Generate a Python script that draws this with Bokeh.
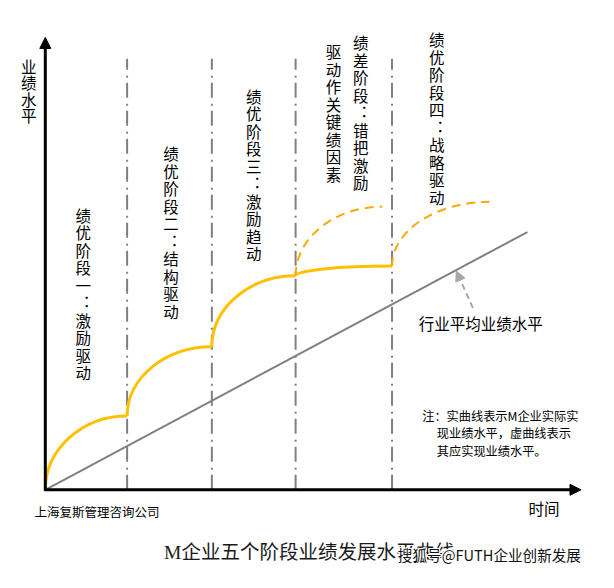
from bokeh.plotting import figure
from bokeh.models import Range1d, Arrow, NormalHead, ColumnDataSource
from bokeh.core.properties import value
from bokeh.embed import file_html
from bokeh.resources import INLINE

# ---------------- data (time / performance level, arbitrary units) ----------------
stage_bounds = [0, 84, 171, 257, 356]          # stage boundaries on the time axis
actual_level = [0, 76, 147, 220, 230]          # actual performance at each boundary
expected_start_t = [257, 356]
expected_start_v = [220, 230]
expected_end_t = [346, 456]
expected_end_v = [291, 296]
industry_t = [0, 495]
industry_v = [0, 265]
time_max = 550
level_max = 465
divider_top = 443

stage_labels = ["绩优阶段一︓激励驱动", "绩优阶段二︓结构驱动", "绩优阶段三︓激励趋动",
                "绩差阶段︓错把激励", "驱动作关键绩因素", "绩优阶段四︓战略驱动"]
stage_label_x = [39, 129, 214, 324, 296, 402]
stage_label_y = [283, 346, 405, 460, 451, 463]   # first character
char_step = 18

CJK = "Noto Sans CJK SC"

p = figure(width=598, height=572, output_backend="svg", toolbar_location=None,
           x_range=Range1d(-46, 568), y_range=Range1d(-85, 503),
           x_axis_location=None, y_axis_location=None, min_border=0)
p.outline_line_color = None
p.grid.visible = False
p.background_fill_color = "white"
p.border_fill_color = "white"

# stage dividers (dash-dot)
p.segment(x0=stage_bounds[1:], y0=[0] * 4, x1=stage_bounds[1:], y1=[divider_top] * 4,
          line_color="#808080", line_width=2, line_dash="15 5 2 6")

# industry average line
p.line(industry_t, industry_v, line_color="#808080", line_width=2)

# actual curve (solid): quarter-arc beziers between stage boundaries
k = 0.55
x0 = stage_bounds[:-1]; x1 = stage_bounds[1:]
y0 = actual_level[:-1]; y1 = actual_level[1:]
src = ColumnDataSource(dict(
    x0=x0, y0=y0, x1=x1, y1=y1,
    cx0=x0, cy0=[a + k * (b - a) for a, b in zip(y0, y1)],
    cx1=[b - k * (b - a) for a, b in zip(x0, x1)], cy1=y1))
p.bezier(x0="x0", y0="y0", x1="x1", y1="y1", cx0="cx0", cy0="cy0", cx1="cx1", cy1="cy1",
         source=src, line_color="#FFC000", line_width=3)

# expected curve (dashed)
srcd = ColumnDataSource(dict(
    x0=expected_start_t, y0=expected_start_v, x1=expected_end_t, y1=expected_end_v,
    cx0=expected_start_t,
    cy0=[a + k * (b - a) for a, b in zip(expected_start_v, expected_end_v)],
    cx1=[b - k * (b - a) for a, b in zip(expected_start_t, expected_end_t)],
    cy1=expected_end_v))
p.bezier(x0="x0", y0="y0", x1="x1", y1="y1", cx0="cx0", cy0="cy0", cx1="cx1", cy1="cy1",
         source=srcd, line_color="#FFA800", line_width=2, line_dash="9 6")

# axes with arrow heads
p.add_layout(Arrow(end=NormalHead(size=11, fill_color="black", line_color="black"),
                   x_start=0, y_start=-1, x_end=0, y_end=level_max,
                   line_color="black", line_width=3))
p.add_layout(Arrow(end=NormalHead(size=11, fill_color="black", line_color="black"),
                   x_start=-1, y_start=0, x_end=time_max, y_end=0,
                   line_color="black", line_width=3))

# pointer to the industry-average line
p.add_layout(Arrow(end=NormalHead(size=10, fill_color="#A6A6A6", line_color="#A6A6A6"),
                   x_start=439, y_start=187, x_end=422, y_end=225,
                   line_color="#A6A6A6", line_width=2, line_dash="6 4"))

# vertical stage labels, one character at a time
cx, cy, ct = [], [], []
for lab, lx, ly in zip(stage_labels, stage_label_x, stage_label_y):
    for i, ch in enumerate(lab):
        cx.append(lx); cy.append(ly - i * char_step); ct.append(ch)
p.text(x=cx, y=cy, text=ct, text_font=value(CJK), text_font_size="15.5px",
       text_align="center", text_baseline="middle", text_color="black")

ylab = "业绩水平"
p.text(x=[-17] * 4, y=[436 - i * 17 for i in range(4)], text=list(ylab),
       text_font=value(CJK), text_font_size="15.5px", text_align="center",
       text_baseline="middle", text_color="black")

p.text(x=[512], y=[-19], text=["时间"], text_font=value(CJK), text_font_size="15.5px",
       text_align="center", text_baseline="middle", text_color="black")

p.text(x=[447], y=[171], text=["行业平均业绩水平"], text_font=value(CJK),
       text_font_size="15.5px", text_align="center", text_baseline="middle", text_color="black")

p.text(x=[387, 402, 402], y=[76, 58, 40],
       text=["注：实曲线表示M企业实际实", "现业绩水平，虚曲线表示", "其应实现业绩水平。"],
       text_font=value(CJK), text_font_size="12.2px", text_align="left",
       text_baseline="middle", text_color="black")

p.text(x=[-11], y=[-22], text=["上海复斯管理咨询公司"], text_font=value(CJK),
       text_font_size="12.5px", text_align="left", text_baseline="middle", text_color="black")

p.text(x=[122], y=[-64], text=["M企业五个阶段业绩发展水平曲线"],
       text_font=value("Liberation Serif, Noto Sans CJK SC"), text_font_size="19.5px",
       text_align="left", text_baseline="middle", text_color="#1a1a1a")

# watermark with white halo
wm_text = "搜狐号@FUTH企业创新发展"
offs = [(-1, 0), (1, 0), (0, -1), (0, 1), (-1, -1), (1, 1), (-1, 1), (1, -1)]
wm = ColumnDataSource(dict(x=[362] * len(offs), y=[-67] * len(offs),
                           t=[wm_text] * len(offs),
                           xo=[o[0] for o in offs], yo=[o[1] for o in offs]))
p.text(x="x", y="y", text="t", x_offset="xo", y_offset="yo", source=wm,
       text_font=value(CJK), text_font_size="14.6px", text_align="left",
       text_baseline="middle", text_color="white")
p.text(x=[362], y=[-67], text=[wm_text], text_font=value(CJK),
       text_font_size="14.6px", text_align="left", text_baseline="middle", text_color="#111111")

open("out.html", "w").write(file_html(p, INLINE))
